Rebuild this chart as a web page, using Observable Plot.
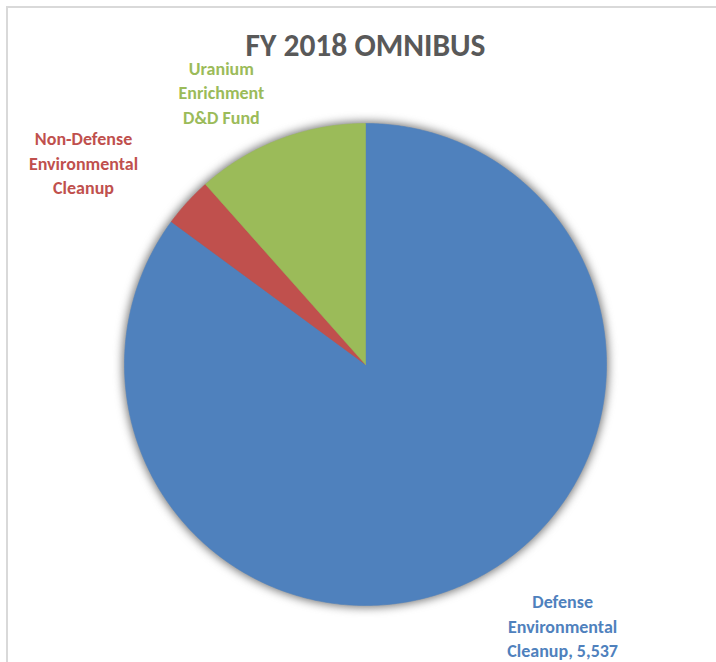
<!DOCTYPE html>
<html>
<head>
<meta charset="utf-8">
<script src="https://cdn.jsdelivr.net/npm/d3@7"></script>
<script src="https://cdn.jsdelivr.net/npm/@observablehq/plot@0.6"></script>
<style>
  html, body { margin: 0; padding: 0; background: #fff; }
  #wrap { position: relative; width: 716px; height: 662px; overflow: hidden; }
  #frame { position: absolute; left: 6px; top: 6px; width: 800px; height: 800px;
           border-left: 2px solid #d9d9d9; border-top: 2px solid #d9d9d9; pointer-events: none; }
</style>
</head>
<body>
<div id="wrap"><div id="frame"></div></div>
<script>
// ---- data ----
const categories = ["Defense Environmental Cleanup", "Non-Defense Environmental Cleanup", "Uranium Enrichment D&D Fund"];
const values = [5537, 218, 752];
const labels = ["Defense\nEnvironmental\nCleanup, 5,537", "Non-Defense\nEnvironmental\nCleanup", "Uranium\nEnrichment\nD&D Fund"];
const colors = ["#4F81BD", "#C0504D", "#9BBB59"];
const title = "FY 2018 OMNIBUS";

// label anchor positions (layout, in pie-radius units relative to the pie centre)
const labelPos = [[0.818, -1.080], [-1.17, 0.840], [-0.598, 1.133]];

// ---- build slice polygons from the values ----
const arcs = d3.pie().sort(null).startAngle(0).endAngle(2 * Math.PI)(values);
const slices = arcs.map((a, i) => {
  const pts = [{x: 0, y: 0}];
  const n = Math.max(4, Math.ceil((a.endAngle - a.startAngle) / 0.01));
  for (let k = 0; k <= n; k++) {
    const t = a.startAngle + (a.endAngle - a.startAngle) * k / n;
    pts.push({x: Math.sin(t), y: Math.cos(t)});
  }
  pts.push({x: 0, y: 0});
  return {name: categories[i], color: colors[i], pts};
});
const disc = d3.range(0, 2 * Math.PI + 0.01, 0.01).map(t => ({x: Math.sin(t), y: Math.cos(t)}));

const labelData = categories.map((c, i) => ({text: labels[i], color: colors[i], x: labelPos[i][0], y: labelPos[i][1]}));

const R = 241, cx = 365, cy = 364, W = 716, H = 662;
const font = "Carlito, Lato, 'Open Sans', sans-serif";

const plot = Plot.plot({
  width: W, height: H,
  margin: 0,
  x: {domain: [-cx / R, (W - cx) / R], range: [0, W], axis: null},
  y: {domain: [-(H - cy) / R, cy / R], range: [H, 0], axis: null},
  style: {background: "transparent", fontFamily: font},
  marks: [
    Plot.line(disc, {x: "x", y: "y", fill: "#666", stroke: "#666", strokeWidth: 3, fillOpacity: 0.9, imageFilter: "blur(5px)"}),
    ...slices.map(s => Plot.line(s.pts, {x: "x", y: "y", fill: s.color, stroke: s.color, strokeWidth: 0.6, curve: "linear"})),
    ...labelData.map(d => Plot.text([d], {x: "x", y: "y", text: "text", fill: d.color, fontSize: 18, fontWeight: "bold", lineHeight: 1.36, textAnchor: "middle", fontFamily: font})),
    Plot.text([title], {x: () => 0, y: () => (cy - 45) / R, text: d => d, fill: "#595959", fontSize: 31.5, fontWeight: "bold", textAnchor: "middle", fontFamily: font})
  ]
});
// ensure the shadow blur is applied even if imageFilter is unsupported
const firstLine = plot.querySelector('g[aria-label="line"]');
if (firstLine) firstLine.style.filter = "blur(5px)";
plot.style.position = "absolute";
plot.style.left = "0"; plot.style.top = "0";
document.getElementById("wrap").insertBefore(plot, document.getElementById("frame"));
</script>
</body>
</html>
